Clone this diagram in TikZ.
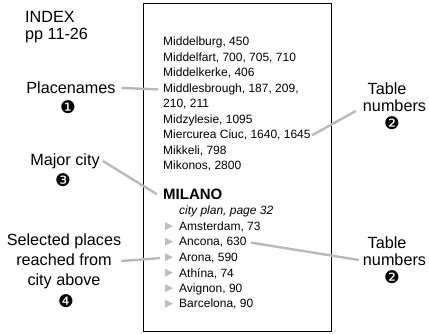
\documentclass[tikz,border=0pt]{standalone}
\usepackage{fontspec}
\setmainfont{Liberation Sans}
\newfontfamily\dejavu{DejaVu Sans}
\definecolor{lgray}{RGB}{185,185,185}
\definecolor{tgray}{RGB}{190,190,190}
\begin{document}
\begin{tikzpicture}[x=1pt,y=-1pt,
  lab/.style={font=\fontsize{16.2}{20}\selectfont, inner sep=0pt, align=center},
  item/.style={font=\fontsize{12}{14}\selectfont, inner sep=0pt, anchor=base west},
  circnum/.style={font=\dejavu\fontsize{17.5}{17.5}\selectfont, inner sep=0pt},
  conn/.style={draw=lgray, line width=2.4pt},
  tri/.style={fill=tgray}]
\useasboundingbox (0,0) rectangle (429,334);
\draw[line width=1pt] (143,4) rectangle (331,331);
% left labels
\node[lab, anchor=base west] (idx) at (25,23) {INDEX};
\node[lab, anchor=base west] (pp) at (25,39.5) {pp 11-26};
\node[lab] (plc) at (71,88) {Placenames};
\node[circnum] (c1) at (68,107) {❶};
\node[lab] (maj) at (65,161) {Major city};
\node[circnum] (c3) at (63,180) {❸};
\node[lab] (sel) at (64,261) {Selected places\\reached from\\city above};
\node[circnum] (c4) at (66,301) {❹};
% right labels
\node[lab] (tabA) at (387,89) {Table};
\node[lab] (numA) at (394.5,106) {numbers};
\node[circnum] (c2a) at (392,123) {❷};
\node[lab] (tabB) at (387,243) {Table};
\node[lab] (numB) at (394.5,260) {numbers};
\node[circnum] (c2b) at (392,277) {❷};
% index list
\node[item] (m1) at (163,46) {Middelburg, 450};
\node[item] (m2) at (163,61.5) {Middelfart, 700, 705, 710};
\node[item] (m3) at (163,77) {Middelkerke, 406};
\node[item] (m4) at (163,92.5) {Middlesbrough, 187, 209,};
\node[item] (m5) at (163,108) {210, 211};
\node[item] (m6) at (163,123.5) {Midzylesie, 1095};
\node[item] (m7) at (163,139) {Miercurea Ciuc, 1640, 1645};
\node[item] (m8) at (163,154.5) {Mikkeli, 798};
\node[item] (m9) at (163,170) {Mikonos, 2800};
\node[item, font=\bfseries\fontsize{15}{15}\selectfont] (mil) at (163,199.5) {MILANO};
\node[item, font=\itshape\fontsize{12}{14}\selectfont] (plan) at (179,214.5) {city plan, page 32};
\foreach \n/\y/\t in {d1/230.5/{Amsterdam, 73},d2/246/{Ancona, 630},d3/261.5/{Arona, 590},d4/277/{Athína, 74},d5/292.5/{Avignon, 90},d6/308/{Barcelona, 90}}{
  \node[item] (\n) at (179,\y) {\t};
  \fill[tgray] (165,\y-8.3) -- (173,\y-4.3) -- (165,\y-0.3) -- cycle;
}
% connectors
\draw[conn] ([xshift=6pt]plc.east) -- ([xshift=-5pt]m4.west);
\draw[conn] ([xshift=1pt]m7.east) -- ([shift={(-7,5)}]numA.west);
\draw[conn] ([xshift=3pt]maj.east) -- ([xshift=-6pt]mil.west);
\draw[conn] (sel.east) -- ([xshift=-19pt]d3.west);
\draw[conn] ([xshift=4pt]d2.east) -- ([xshift=-4pt]numB.west);
\end{tikzpicture}
\end{document}
